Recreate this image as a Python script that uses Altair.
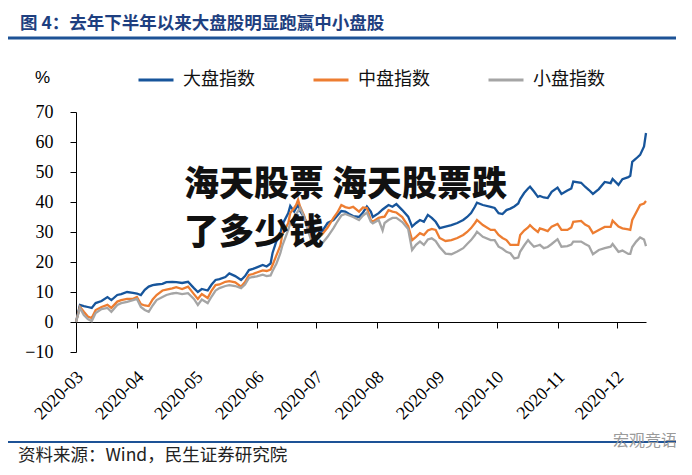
import altair as alt
import pandas as pd

# ---- data ----
dates = [
    "2020-03-01", "2020-03-03", "2020-03-05", "2020-03-07", "2020-03-09", "2020-03-11", "2020-03-14",
    "2020-03-17", "2020-03-19", "2020-03-22", "2020-03-24", "2020-03-27", "2020-03-30",
    "2020-04-01", "2020-04-03", "2020-04-05", "2020-04-07", "2020-04-09", "2020-04-11", "2020-04-14",
    "2020-04-16", "2020-04-19", "2020-04-21", "2020-04-24", "2020-04-27", "2020-04-30",
    "2020-05-02", "2020-05-04", "2020-05-07", "2020-05-09", "2020-05-11", "2020-05-13", "2020-05-16",
    "2020-05-18", "2020-05-21", "2020-05-24", "2020-05-26", "2020-05-28", "2020-05-30",
    "2020-06-01", "2020-06-04", "2020-06-06", "2020-06-08", "2020-06-09", "2020-06-11", "2020-06-13",
    "2020-06-14", "2020-06-17", "2020-06-18", "2020-06-20", "2020-06-21", "2020-06-22", "2020-06-23",
    "2020-06-25", "2020-06-27", "2020-06-29",
    "2020-07-02", "2020-07-04", "2020-07-07", "2020-07-10", "2020-07-12", "2020-07-14", "2020-07-16",
    "2020-07-18", "2020-07-20", "2020-07-23", "2020-07-25", "2020-07-27", "2020-07-29", "2020-07-30",
    "2020-08-02", "2020-08-04", "2020-08-05", "2020-08-07", "2020-08-09", "2020-08-11", "2020-08-14",
    "2020-08-17", "2020-08-19", "2020-08-21", "2020-08-23", "2020-08-25", "2020-08-27", "2020-08-29",
    "2020-08-31",
    "2020-09-02", "2020-09-05", "2020-09-08", "2020-09-11", "2020-09-14", "2020-09-16", "2020-09-18",
    "2020-09-20", "2020-09-21", "2020-09-24", "2020-09-28", "2020-09-30",
    "2020-10-02", "2020-10-04", "2020-10-06", "2020-10-08", "2020-10-10", "2020-10-12", "2020-10-13",
    "2020-10-15", "2020-10-17", "2020-10-18", "2020-10-20", "2020-10-22", "2020-10-23", "2020-10-25",
    "2020-10-27", "2020-10-29",
    "2020-11-01", "2020-11-03", "2020-11-06", "2020-11-08", "2020-11-09", "2020-11-13", "2020-11-15",
    "2020-11-17", "2020-11-19", "2020-11-22", "2020-11-25", "2020-11-28", "2020-11-29",
    "2020-12-02", "2020-12-04", "2020-12-07", "2020-12-08", "2020-12-09", "2020-12-11", "2020-12-13",
    "2020-12-15", "2020-12-16",
]

large_cap = [
    0, 5.7, 5.3, 5.0, 4.7, 6.3, 7.0, 8.3, 7.3, 9.0, 9.3, 10.0, 9.7,
    9.5, 9.0, 10.7, 11.8, 12.3, 12.5, 12.7, 13.3, 13.4, 13.3, 13.0, 13.4, 11.3,
    10.0, 11.0, 10.5, 12.5, 14.0, 14.3, 15.0, 16.2, 15.3, 14.0, 15.3, 17.3, 17.7,
    18.2, 19.0, 18.5, 19.5, 23.0, 27.0, 29.7, 32.5, 36.3, 38.7, 36.8, 38.0, 39.0, 37.0, 35.0, 32.0, 29.5,
    30.5, 30.0, 33.0, 34.0, 35.5, 37.0, 36.8, 36.0, 35.3, 35.0, 36.5, 38.5, 36.8, 35.0,
    36.3, 37.5, 38.0, 39.0, 38.4, 39.3, 37.3, 35.1, 31.8, 33.0, 34.0, 33.4, 35.7, 34.7, 33.4,
    31.3, 31.8, 32.3, 33.0, 34.0, 35.0, 36.3, 38.5, 39.8, 39.0, 38.4, 38.0,
    36.3, 36.0, 37.3, 37.8, 38.5, 39.5, 41.0, 43.0, 44.5, 45.1, 43.5, 41.7, 42.0, 41.5, 41.3, 43.4,
    44.8, 42.7, 43.8, 44.5, 46.8, 46.4, 45.1, 44.0, 42.7, 44.3, 46.7, 46.3, 47.7,
    45.7, 47.6, 48.3, 48.7, 53.4, 54.5, 55.7, 58.5, 63.0,
]

mid_cap = [
    0, 5.1, 3.4, 1.8, 1.3, 4.0, 5.0, 5.7, 4.7, 6.8, 7.3, 7.7, 7.7,
    8.3, 6.0, 5.5, 5.3, 7.5, 9.0, 10.5, 10.8, 11.2, 11.6, 11.0, 11.8, 9.3,
    7.7, 9.3, 8.0, 10.5, 12.3, 12.5, 13.4, 13.6, 13.2, 11.8, 13.3, 15.7, 16.0,
    16.5, 17.2, 17.0, 17.5, 19.0, 22.3, 25.5, 29.3, 33.0, 36.3, 38.0, 39.0, 40.7, 38.5, 35.5, 31.5, 28.5,
    28.0, 29.0, 31.5, 34.7, 36.5, 39.0, 38.3, 38.0, 38.4, 36.8, 38.2, 38.0, 34.0, 33.4,
    34.7, 35.0, 35.1, 37.3, 36.8, 36.5, 35.0, 32.0, 27.3, 28.4, 29.6, 29.0, 30.5, 31.0, 30.7,
    28.0, 27.0, 27.3, 28.0, 29.0, 30.0, 31.3, 33.0, 34.0, 32.3, 30.7, 30.7,
    29.0, 28.0, 27.3, 25.7, 25.7, 25.7, 29.0, 30.5, 31.5, 32.3, 31.0, 30.0, 31.2, 30.8, 30.3, 31.8,
    32.7, 30.7, 30.7, 31.5, 33.4, 33.7, 32.5, 31.8, 29.6, 30.7, 31.7, 31.7, 33.8,
    31.8, 31.2, 30.9, 30.7, 34.0, 36.5, 39.0, 39.5, 40.3,
]

small_cap = [
    0, 4.7, 2.3, 1.0, 0.3, 3.0, 4.3, 4.7, 3.4, 5.7, 6.3, 6.7, 7.3,
    7.7, 5.0, 4.0, 3.4, 5.5, 7.3, 8.3, 9.0, 9.5, 9.7, 9.3, 9.6, 7.7,
    5.7, 7.5, 6.3, 8.5, 10.5, 11.3, 12.0, 12.3, 12.0, 11.3, 12.5, 14.7, 15.0,
    15.2, 15.8, 15.3, 15.5, 17.0, 19.5, 23.0, 25.5, 30.7, 33.0, 34.7, 36.0, 37.0, 38.0, 35.1, 30.5, 26.5,
    25.5, 26.0, 28.4, 31.3, 33.5, 35.5, 36.0, 35.5, 35.0, 34.0, 35.5, 36.5, 33.4, 32.9,
    34.0, 30.5, 33.0, 34.0, 34.7, 34.7, 33.3, 31.0, 24.0, 25.7, 26.8, 25.7, 27.5, 27.9, 27.0,
    25.0, 22.8, 22.6, 23.5, 24.6, 26.0, 27.3, 29.0, 30.1, 28.4, 27.3, 27.3,
    25.1, 24.4, 23.4, 22.9, 21.2, 21.5, 23.5, 25.5, 27.3, 26.5, 25.1, 25.5, 25.7, 24.6, 25.0, 26.0,
    27.6, 25.1, 25.3, 25.8, 26.8, 26.8, 26.0, 25.3, 22.6, 24.0, 24.6, 25.1, 26.0,
    23.4, 23.8, 22.7, 22.7, 25.0, 26.8, 28.2, 27.5, 25.3,
]

series_names = ["大盘指数", "中盘指数", "小盘指数"]
series_colors = ["#17559B", "#ED7D31", "#A5A5A5"]
y_ticks = [-10, 0, 10, 20, 30, 40, 50, 60, 70]
tick_months = [3, 4, 5, 6, 7, 8, 9, 10, 11, 12]

title_text = "图 4：去年下半年以来大盘股明显跑赢中小盘股"
source_text = "资料来源：Wind，民生证券研究院"
watermark_text = "宏观竞语"
overlay_line1 = "海天股票 海天股票跌"
overlay_line2 = "了多少钱"

n = len(dates)
assert len(large_cap) == n and len(mid_cap) == n and len(small_cap) == n

df = pd.DataFrame({
    "date": dates * 3,
    "value": large_cap + mid_cap + small_cap,
    "series": [series_names[0]] * n + [series_names[1]] * n + [series_names[2]] * n,
})

CJK = "Noto Sans CJK SC"
SERIF = "Liberation Serif"

lines = alt.Chart(df).mark_line(strokeWidth=2.3).encode(
    x=alt.X(
        "date:T",
        scale=alt.Scale(
            type="utc",
            domain=[alt.DateTime(year=2020, month=3, date=1, utc=True),
                    alt.DateTime(year=2020, month=12, date=16, utc=True)],
        ),
        axis=alt.Axis(
            title=None,
            values=[alt.DateTime(year=2020, month=m, date=1, utc=True) for m in tick_months],
            labelExpr="utcFormat(datum.value, '%Y-%m')",
            labelAngle=-45,
            labelAlign="right",
            labelBaseline="middle",
            labelPadding=46,
            labelOffset=4,
            labelFont=SERIF,
            labelFontSize=18,
            labelColor="#000000",
            tickSize=6,
            tickColor="#000000",
            domainColor="#000000",
            offset=-30,
            grid=False,
            labelOverlap=False,
        ),
    ),
    y=alt.Y(
        "value:Q",
        scale=alt.Scale(domain=[-10, 70], nice=False),
        axis=alt.Axis(
            title="%",
            titleAngle=0,
            titleX=-34,
            titleY=-35,
            titleAlign="center",
            titleBaseline="middle",
            titleFont="Liberation Sans",
            titleFontSize=17,
            titleFontWeight="normal",
            titleColor="#000000",
            values=y_ticks,
            labelFont=SERIF,
            labelFontSize=18,
            labelColor="#000000",
            labelPadding=17,
            tickSize=6,
            tickColor="#000000",
            domainColor="#000000",
            grid=False,
        ),
    ),
    color=alt.Color(
        "series:N",
        scale=alt.Scale(domain=series_names, range=series_colors),
        legend=alt.Legend(
            title=None,
            orient="none",
            legendX=61,
            legendY=-51,
            direction="horizontal",
            symbolType="stroke",
            symbolSize=1225,
            symbolStrokeWidth=3,
            labelFont=CJK,
            labelFontSize=18,
            labelColor="#111111",
            labelOffset=8,
            columnPadding=52,
        ),
    ),
)


def label(text, x, y, **kw):
    return alt.Chart(pd.DataFrame({"t": [text]})).mark_text(**kw).encode(
        x=alt.value(x), y=alt.value(y), text="t:N"
    )


def hrule(x1, x2, y, color, width):
    return alt.Chart(pd.DataFrame({"k": [0]})).mark_rule(color=color, strokeWidth=width).encode(
        x=alt.value(x1), x2=alt.value(x2), y=alt.value(y)
    )


title = label(title_text, -56, -88, align="left", baseline="middle", font=CJK,
              fontSize=17.5, fontWeight="bold", color="#1E3F80")
top_rule = hrule(-68, 601, -74, "#1D5296", 3)
bottom_rule = hrule(-68, 601, 330, "#1D5296", 2)
source = label(source_text, -58, 344, align="left", baseline="middle", font=CJK,
               fontSize=17.5, color="#222222")
watermark = label(watermark_text, 601, 329, align="right", baseline="middle", font=CJK,
                  fontSize=16, color="#9A9A9A")
overlay1 = label(overlay_line1, 108, 73, align="left", baseline="middle", font=CJK,
                 fontSize=35, fontWeight=900, color="#111111")
overlay2 = label(overlay_line2, 108, 121, align="left", baseline="middle", font=CJK,
                 fontSize=35, fontWeight=900, color="#111111")

chart = alt.layer(
    lines, title, top_rule, bottom_rule, source, watermark, overlay1, overlay2
).properties(
    width=570,
    height=240,
    autosize=alt.AutoSizeParams(type="none"),
    padding={"left": 68, "top": 104, "right": 30, "bottom": 114},
    background="#FFFFFF",
).configure_view(stroke=None)

chart.save("out.html", embed_options={"renderer": "svg", "actions": False})
